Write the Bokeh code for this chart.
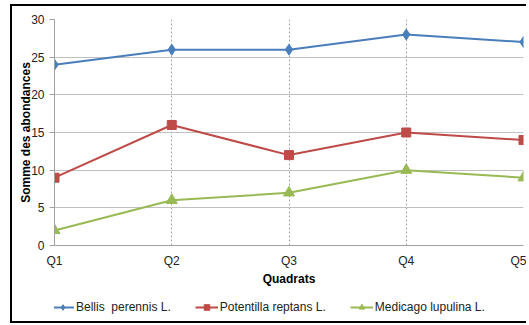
from bokeh.plotting import figure
from bokeh.layouts import column
from bokeh.models import Range1d, FixedTicker, Legend, LegendItem, ColumnDataSource
from bokeh.embed import file_html
from bokeh.resources import INLINE

quadrats = ["Q1", "Q2", "Q3", "Q4", "Q5"]
bellis = [24, 26, 26, 28, 27]
potentilla = [9, 16, 12, 15, 14]
medicago = [2, 6, 7, 10, 9]
series_names = ["Bellis  perennis L.", "Potentilla reptans L.", "Medicago lupulina L."]
y_ticks = [0, 5, 10, 15, 20, 25, 30]

FONT = "Liberation Sans"
xs = list(range(len(quadrats)))
W = 514

p = figure(width=W, height=283, output_backend="svg", toolbar_location=None,
           x_range=Range1d(0, len(quadrats) - 1), y_range=Range1d(0, 30),
           min_border_left=42, min_border_right=3, min_border_top=13, min_border_bottom=44)
p.outline_line_color = None
p.background_fill_color = "white"
p.border_fill_color = "white"

# grids
p.ygrid.ticker = FixedTicker(ticks=y_ticks)
p.ygrid.grid_line_color = "#c0c0c0"
p.ygrid.grid_line_width = 1
p.xgrid.ticker = FixedTicker(ticks=xs[1:])
p.xgrid.grid_line_color = "#a6a6a6"
p.xgrid.grid_line_dash = "2 2"
p.xgrid.grid_line_width = 1

# axes
p.xaxis.ticker = FixedTicker(ticks=xs)
p.xaxis.major_label_overrides = {i: q for i, q in enumerate(quadrats)}
p.yaxis.ticker = FixedTicker(ticks=y_ticks)
for ax in (p.xaxis[0], p.yaxis[0]):
    ax.axis_line_color = "#a0a0a0"
    ax.major_tick_line_color = "#a0a0a0"
    ax.minor_tick_line_color = None
    ax.major_label_text_font = FONT
    ax.major_label_text_font_size = "12px"
    ax.major_label_text_color = "#222222"
    ax.axis_label_text_font = FONT
    ax.axis_label_text_font_size = "12px"
    ax.axis_label_text_font_style = "bold"
    ax.axis_label_text_color = "black"
p.xaxis.major_tick_out = 0
p.xaxis.major_tick_in = 0
p.xaxis.major_label_standoff = 8
p.xaxis.axis_label = "Quadrats"
p.xaxis.axis_label_standoff = 1
p.yaxis.major_tick_out = 5
p.yaxis.major_tick_in = 0
p.yaxis.major_label_standoff = 5
p.yaxis.axis_label = "Somme des abondances"
p.yaxis.axis_label_standoff = -5

colors = ["#4a7ebb", "#be4b48", "#98b954"]
markers = ["diamond", "square", "triangle"]
sizes = [11, 9, 11]

# legend-only figure below the chart (its ranges keep the data out of view)
lf = figure(width=W, height=32, output_backend="svg", toolbar_location=None,
            x_range=Range1d(0, 1), y_range=Range1d(-10, -5),
            x_axis_location=None, y_axis_location=None,
            min_border_left=0, min_border_right=0, min_border_top=0, min_border_bottom=0)
lf.outline_line_color = None
lf.xgrid.visible = False
lf.ygrid.visible = False
lf.border_fill_color = "white"

items = []
for name, vals, c, m, s in zip(series_names, [bellis, potentilla, medicago], colors, markers, sizes):
    src = ColumnDataSource(dict(x=xs, y=vals))
    p.line("x", "y", source=src, line_color=c, line_width=2)
    p.scatter("x", "y", source=src, marker=m, size=s, fill_color=c, line_color=c)
    ln = lf.line("x", "y", source=src, line_color=c, line_width=2)
    sc = lf.scatter("x", "y", source=src, marker=m, size=6, fill_color=c, line_color=c)
    items.append(LegendItem(label=name, renderers=[ln, sc]))

legend = Legend(items=items, orientation="horizontal", location=(-3, 7),
                border_line_color=None, background_fill_alpha=0,
                label_text_font=FONT, label_text_font_size="12px", label_text_color="#222222",
                glyph_width=23, glyph_height=14, label_standoff=2, spacing=24,
                padding=0, margin=0, label_height=14)
lf.add_layout(legend, "center")

layout = column(p, lf, spacing=0,
                styles={"border-left": "2px solid black", "border-top": "2px solid black",
                        "border-bottom": "2px solid black",
                        "margin-left": "10px", "margin-top": "4px"})

open("out.html", "w").write(file_html(layout, INLINE))
